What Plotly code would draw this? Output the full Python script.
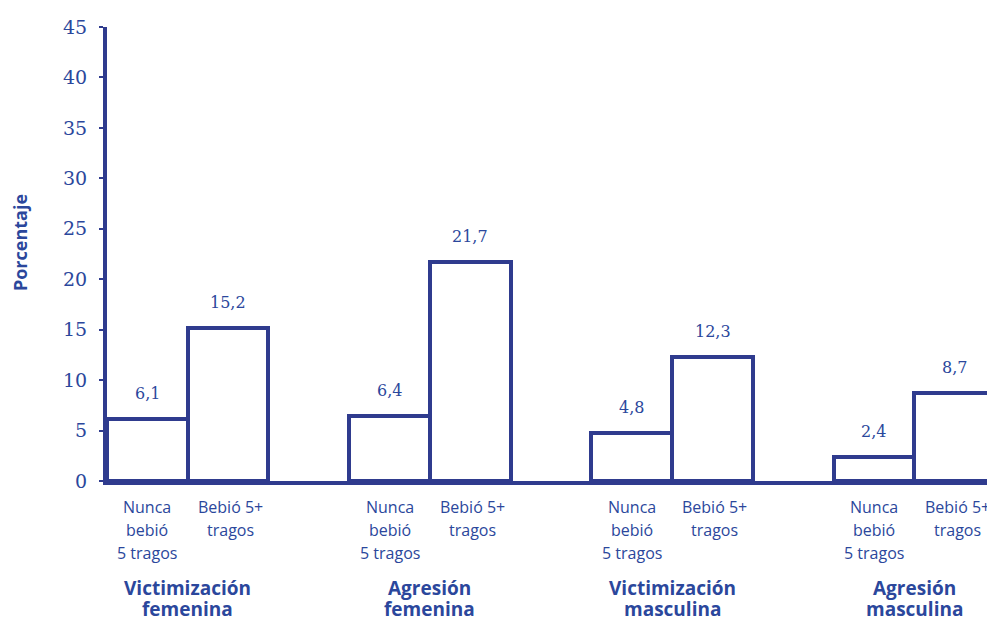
import plotly.graph_objects as go

# ---- data ----
groups = ["Victimización", "Agresión", "Victimización", "Agresión"]
groups2 = ["femenina", "femenina", "masculina", "masculina"]
sub_nunca = ["Nunca", "bebió", "5 tragos"]
sub_bebio = ["Bebió 5+", "tragos"]
nunca = [6.1, 6.4, 4.8, 2.4]
bebio = [15.2, 21.7, 12.3, 8.7]
ytick_vals = [0, 5, 10, 15, 20, 25, 30, 35, 40, 45]

LINE = "#2f3b8e"
TEXT = "#2b479c"

x_n = [g * 3 + 0.5 for g in range(len(groups))]
x_b = [g * 3 + 1.5 for g in range(len(groups))]

fig = go.Figure()
fig.add_trace(go.Bar(x=x_n + x_b, y=nunca + bebio, width=1,
                     marker=dict(color="white", line=dict(color=LINE, width=4)),
                     hoverinfo="skip", showlegend=False))

ann = []
def fmt(v):
    return f"{v:.1f}".replace(".", ",")

for xs, vals in ((x_n, nunca), (x_b, bebio)):
    for x, v in zip(xs, vals):
        ann.append(dict(x=x, y=v, xref="x", yref="y", text=fmt(v), showarrow=False,
                        yanchor="bottom", yshift=14,
                        font=dict(family="DejaVu Serif", size=16, color=TEXT)))

cat_font = dict(family="Open Sans", size=16, color=TEXT)
offs3 = [26, 49, 72]
for x in x_n:
    for line, o in zip(sub_nunca, offs3):
        ann.append(dict(x=x, y=0, xref="x", yref="paper", text=line, showarrow=False,
                        yanchor="middle", yshift=-o, font=cat_font))
for x in x_b:
    for line, o in zip(sub_bebio, offs3[:2]):
        ann.append(dict(x=x + 0.03, y=0, xref="x", yref="paper", text=line, showarrow=False,
                        yanchor="middle", yshift=-o, font=cat_font))

grp_font = dict(family="Open Sans", size=19, color=TEXT, weight="bold")
for g, (l1, l2) in enumerate(zip(groups, groups2)):
    xc = g * 3 + 1
    ann.append(dict(x=xc, y=0, xref="x", yref="paper", text=l1, showarrow=False,
                    yanchor="middle", yshift=-107, font=grp_font))
    ann.append(dict(x=xc, y=0, xref="x", yref="paper", text=l2, showarrow=False,
                    yanchor="middle", yshift=-128, font=grp_font))

ann.append(dict(x=0, y=0.524, xref="paper", yref="paper", text="Porcentaje",
                textangle=-90, showarrow=False, xshift=-87, xanchor="center",
                yanchor="middle",
                font=dict(family="Open Sans", size=18, color=TEXT, weight="bold")))

fig.update_layout(
    width=987, height=619,
    margin=dict(l=107, r=0, t=27, b=138),
    paper_bgcolor="white", plot_bgcolor="white",
    annotations=ann,
    bargap=0,
    xaxis=dict(range=[0, 10.9], showline=True, linecolor=LINE, linewidth=4,
               showticklabels=False, ticks="", showgrid=False, zeroline=False,
               fixedrange=True),
    yaxis=dict(range=[0, 45], tickvals=ytick_vals, showline=True, linecolor=LINE,
               linewidth=4, ticks="outside", ticklen=4, tickwidth=2, tickcolor=LINE,
               showgrid=False, zeroline=False, ticklabelstandoff=8,
               tickfont=dict(family="DejaVu Serif", size=19, color=TEXT)),
)

fig.write_html("out.html", config={"displayModeBar": False},
               post_script="document.body.style.margin='0';document.body.style.overflow='hidden';")
